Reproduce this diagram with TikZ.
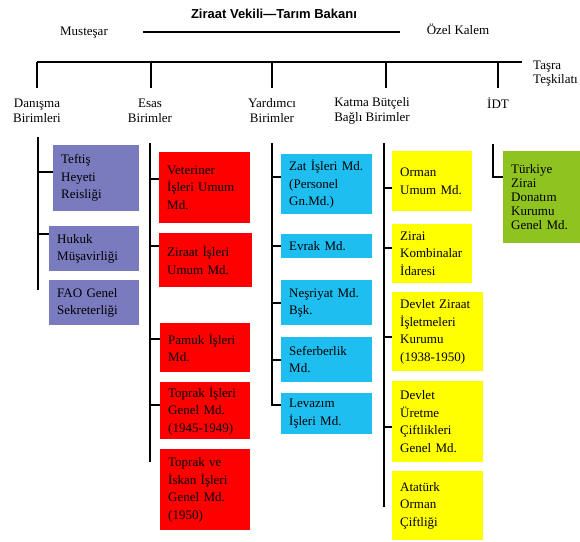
\documentclass[tikz,border=0pt]{standalone}
\usepackage{fontspec}
\setmainfont{Liberation Serif}
\newfontfamily\baslikfont{Liberation Sans}
\definecolor{mor}{RGB}{122,122,190}
\definecolor{kirmizi}{RGB}{255,0,0}
\definecolor{mavi}{RGB}{30,190,240}
\definecolor{sari}{RGB}{255,255,0}
\definecolor{yesil}{RGB}{143,195,31}
\begin{document}
\begin{tikzpicture}[x=1pt, y=-1pt,
    cizgi/.style={line width=1.6pt},
    etiket/.style={inner sep=0pt, align=center, font=\fontsize{13}{15}\selectfont},
    kutu/.style={anchor=north west, align=left, inner xsep=8pt, inner ysep=0pt,
                 font=\fontsize{13}{17.5}\selectfont},
    danisma/.style={kutu, fill=mor},
    esasb/.style={kutu, fill=kirmizi},
    yardb/.style={kutu, fill=mavi},
    katmab/.style={kutu, fill=sari},
    idtb/.style={kutu, fill=yesil}]
    \useasboundingbox (0,0) rectangle (580,541);
    % Bakan
    \node[inner sep=0pt, font=\baslikfont\bfseries\fontsize{13}{15}\selectfont] (bakan) at (274,14) {Ziraat Vekili—Tarım Bakanı};
    \draw[cizgi] (143,32) coordinate (bl) -- (400,32) coordinate (br);
    \node[etiket] (mus) at (84,33) {Musteşar};
    \node[etiket] (ozel) at (458,29) {Özel Kalem};
    % Ana hat
    \draw[cizgi] (37,62) coordinate (ana1) -- (522,62) coordinate (ana2);
    \foreach \x in {37,151,272,386,498}
        \draw[cizgi] (\x,62) -- ++(0,26);
    \node[etiket, anchor=west, align=left, font=\fontsize{13}{14}\selectfont] (tasra) at (533,74) {Taşra\\Teşkilatı};
    % Birimler
    \node[etiket] (dan) at (37,110.5) {Danışma\\Birimleri};
    \node[etiket] (esas) at (150,110.5) {Esas\\Birimler};
    \node[etiket] (yar) at (272,110.5) {Yardımcı\\Birimler};
    \node[etiket] (katma) at (372,110.5) {Katma Bütçeli\\Bağlı Birimler};
    \node[etiket] (idt) at (498,103) {İDT};
    % Danışma birimleri
    \node[danisma, text width=70pt, minimum height=66pt] (tef) at (53,145) {Teftiş\\Heyeti\\Reisliği};
    \node[danisma, text width=74pt, minimum height=45pt] (huk) at (49,226) {Hukuk\\Müşavirliği};
    \node[danisma, text width=74pt, minimum height=45pt] (fao) at (49,280) {FAO Genel\\Sekreterliği};
    \draw[cizgi] (38,137) coordinate (d1) -- (38,290);
    \foreach \k/\s in {tef/6,huk/15}
        \draw[cizgi] ([yshift=\s pt]\k.west) -| (d1);
    % Esas birimler
    \node[esasb, text width=75pt, minimum height=71pt] (vet) at (159,152) {Veteriner\\İşleri Umum\\Md.};
    \node[esasb, text width=77pt, minimum height=54pt] (zir) at (159,233) {Ziraat İşleri\\Umum Md.};
    \node[esasb, text width=74pt, minimum height=49pt] (pam) at (160,323) {Pamuk İşleri\\Md.};
    \node[esasb, text width=74pt, minimum height=57pt] (top) at (160,382) {Toprak İşleri\\Genel Md.\\(1945-1949)};
    \node[esasb, text width=74pt, minimum height=81pt] (isk) at (160,449) {Toprak ve\\İskan İşleri\\Genel Md.\\(1950)};
    \draw[cizgi] (150,143) coordinate (e1) -- (150,462);
    \foreach \k/\s in {vet/9,zir/14,pam/9,top/6}
        \draw[cizgi] ([yshift=\s pt]\k.west) -| (e1);
    % Yardımcı birimler
    \node[yardb, text width=75pt, minimum height=60pt] (zat) at (281,154) {Zat İşleri Md.\\(Personel\\Gn.Md.)};
    \node[yardb, text width=75pt, minimum height=24pt] (evr) at (281,234) {Evrak Md.};
    \node[yardb, text width=75pt, minimum height=45pt] (nes) at (281,280) {Neşriyat Md.\\Bşk.};
    \node[yardb, text width=75pt, minimum height=45pt] (sef) at (281,337) {Seferberlik\\Md.};
    \node[yardb, text width=75pt, minimum height=41pt] (lev) at (281,393) {Levazım\\İşleri Md.};
    \coordinate (y1) at (272,143);
    \draw[cizgi] (y1) |- ([yshift=9pt]lev.west);
    \foreach \k/\s in {zat/7,evr/0,nes/0,sef/0}
        \draw[cizgi] ([yshift=\s pt]\k.west) -| (y1);
    % Katma bütçeli birimler
    \node[katmab, text width=64pt, minimum height=60pt] (orm) at (392,151) {Orman\\Umum Md.};
    \node[katmab, text width=64pt, minimum height=59pt] (kom) at (392,224) {Zirai\\Kombinalar\\İdaresi};
    \node[katmab, text width=75pt, minimum height=79pt] (dzi) at (392,292) {Devlet Ziraat\\İşletmeleri\\Kurumu\\(1938-1950)};
    \node[katmab, text width=75pt, minimum height=81pt] (dur) at (392,381) {Devlet\\Üretme\\Çiftlikleri\\Genel Md.};
    \node[katmab, text width=75pt, minimum height=69pt] (ata) at (392,471) {Atatürk\\Orman\\Çiftliği};
    \draw[cizgi] (384,143) coordinate (k1) -- (384,507);
    \foreach \k/\s in {orm/-7,kom/6,dzi/-5,dur/-5}
        \draw[cizgi] ([yshift=\s pt]\k.west) -| (k1);
    % İDT
    \node[idtb, text width=61pt, minimum height=92pt, font=\fontsize{13}{14}\selectfont] (tzd) at (503,151) {Türkiye\\Zirai\\Donatım\\Kurumu\\Genel Md.};
    \draw[cizgi] (493,144) coordinate (i1) |- ([yshift=20pt]tzd.west);
\end{tikzpicture}
\end{document}
